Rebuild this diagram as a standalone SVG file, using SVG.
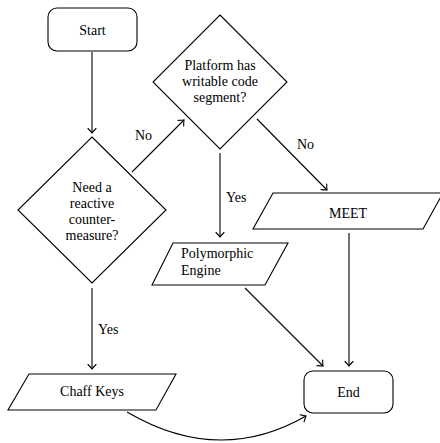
<svg xmlns="http://www.w3.org/2000/svg" width="440" height="443" viewBox="0 0 440 443">
<defs>
<marker id="arr" markerWidth="12" markerHeight="12" refX="0" refY="0" viewBox="-6 -6 12 12" orient="auto" markerUnits="userSpaceOnUse">
<path d="M -4.5 -4 Q -1.2 -0.8 0 0 Q -1.2 0.8 -4.5 4" fill="none" stroke="#000" stroke-width="1.1" stroke-linecap="round"/>
</marker>
<style>
.s{fill:#fff;stroke:#000;stroke-width:1.1}
.t{font-family:'Liberation Serif','Times New Roman',Times,serif;font-size:14px;fill:#000}
.c{text-anchor:middle}
.e{fill:none;stroke:#000;stroke-width:1.1;marker-end:url(#arr)}
</style>
</defs>
<rect width="440" height="443" fill="#fff"/>
<g class="t">
<g id="connectors">
<line class="e" x1="92" y1="52" x2="92" y2="133"/>
<line class="e" x1="132" y1="172" x2="184" y2="120"/>
<line class="e" x1="220" y1="153" x2="220" y2="237"/>
<line class="e" x1="257" y1="119" x2="327" y2="190"/>
<line class="e" x1="349" y1="233" x2="349" y2="366"/>
<line class="e" x1="245" y1="288" x2="323" y2="366"/>
<line class="e" x1="92" y1="288" x2="92" y2="369"/>
<path class="e" d="M127,412 Q219,466 306,416"/>
<text x="135" y="140">No</text>
<text x="226" y="202">Yes</text>
<text x="297" y="149">No</text>
<text x="98" y="334">Yes</text>
</g>
<g id="start">
<rect class="s" x="48" y="8" width="89" height="43" rx="9"/>
<text class="c" x="92.5" y="34.5">Start</text>
</g>
<g id="decision-reactive">
<polygon class="s" points="92,137 166,210 92,283 18,210"/>
<text class="c" x="92" y="192">Need a</text>
<text class="c" x="92" y="208">reactive</text>
<text class="c" x="92" y="224">counter-</text>
<text class="c" x="92" y="240">measure?</text>
</g>
<g id="decision-platform">
<polygon class="s" points="220,15 287,82 220,149 153,82"/>
<text class="c" x="220" y="70">Platform has</text>
<text class="c" x="220" y="86">writable code</text>
<text class="c" x="220" y="102">segment?</text>
</g>
<g id="meet">
<polygon class="s" points="273,193 443,193 423,229 253,229"/>
<text class="c" x="348" y="218">MEET</text>
</g>
<g id="polymorphic">
<polygon class="s" points="173,243 288,243 265,285 152,285"/>
<text x="181" y="258">Polymorphic</text>
<text x="181" y="275">Engine</text>
</g>
<g id="chaff">
<polygon class="s" points="29,374 176,374 156,410 8,410"/>
<text class="c" x="92" y="396">Chaff Keys</text>
</g>
<g id="end">
<rect class="s" x="304" y="371" width="89" height="42" rx="9"/>
<text class="c" x="348.5" y="397">End</text>
</g>
</g>
</svg>
